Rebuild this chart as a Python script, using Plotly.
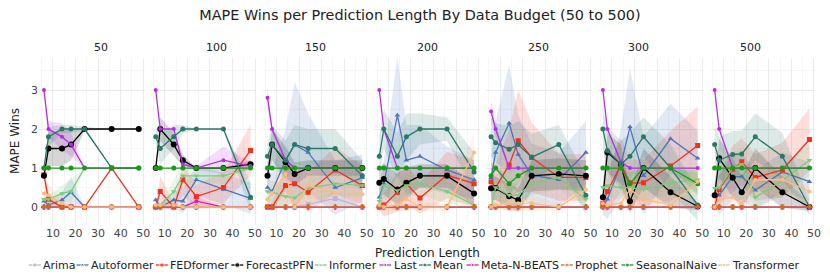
import plotly.graph_objects as go
from plotly.subplots import make_subplots

BUDGETS = ["50", "100", "150", "200", "250", "300", "500"]
PRED_LEN = [6, 8, 14, 18, 24, 36, 48]
NAMES = ["Arima", "Autoformer", "FEDformer", "ForecastPFN", "Informer", "Last",
         "Mean", "Meta-N-BEATS", "Prophet", "SeasonalNaive", "Transformer"]

# mean wins per budget panel (rows) and prediction length (cols)
ARIMA = [[0, 0, 0, 0, 0, 0, 0], [0, 0, 0, 0, 0, 0, 0], [0, 0, 0, 0, 0.07, 0.22, 0],
         [0, 0, 0, 0, 0, 0, 0], [0, 0, 0, 0, 0, 0, 0], [0, 0, 0, 0, 0, 0, 0], [0, 0, 0, 0, 0, 0, 0]]
AUTOFORMER = [[0.15, 0.05, 0.18, 0.38, 0, 0, 0], [0.18, 0, 0.18, 0.15, 0.7, 0.45, 0.22],
              [0.5, 0.4, 1.2, 1.6, 1.4, 0.5, 0.75], [0.25, 0.6, 2.35, 1.2, 1.3, 0.95, 0.7],
              [0.75, 1.4, 2.15, 1.35, 0.82, 0.7, 1.4], [0.0, 0.2, 1.1, 2.05, 0.8, 1.75, 1.25],
              [0.3, 0.3, 0.78, 0.78, 0.43, 0.9, 0.65]]
FEDFORMER = [[0.83, 0.2, 0, 0, 0, 1.0, 0], [0, 0.4, 0, 0.7, 0.27, 0.5, 1.45],
             [0, 0, 0.55, 0.6, 0.38, 0.95, 0.55], [0, 0.05, 0.38, 0.6, 0.23, 0.82, 0.6],
             [0.65, 0.5, 1.08, 1.7, 1.27, 0.76, 0.76], [0.1, 0.4, 1.08, 0.62, 0.62, 1.05, 1.58],
             [0, 0.45, 0.97, 1.16, 0.76, 0.95, 1.73]]
FORECASTPFN = [[0.8, 1.5, 1.5, 1.6, 2.0, 2.0, 2.0], [1.0, 2.0, 1.6, 1.2, 1.0, 1.0, 1.1],
               [0.8, 1.6, 1.15, 0.85, 1.0, 1.0, 1.0], [0.62, 0.72, 0.45, 0.62, 0.8, 0.8, 0.35],
               [0.48, 0.48, 0.28, 0.18, 0.8, 0.85, 0.8], [0.25, 1.4, 1.1, 0.15, 1.0, 0.38, 0.02],
               [0.3, 1.25, 0.75, 0.38, 1.0, 0.38, 0.0]]
INFORMER = [[0.2, 0.2, 0.35, 0.4, 1.0, 1.0, 1.0], [0, 0.05, 0.4, 0.8, 0.8, 0.8, 1.0],
            [0.4, 0.38, 0.27, 0.24, 0.48, 0.6, 0.55], [0.15, 0.55, 0.42, 0.55, 0.6, 0.4, 0.05],
            [0.0, 0.5, 0.3, 0.3, 0.6, 0.75, 0.2], [0.5, 0.55, 0.5, 0.5, 0.45, 0.62, 0.7],
            [0.48, 0.5, 1.0, 1.1, 0.25, 0.68, 1.2]]
LAST = [[3, 2, 1.8, 1.6, 1.0, 1.0, 1.0], [3, 2, 2, 1.1, 1.0, 1.2, 1.05],
        [2.8, 2.0, 1.2, 1.0, 1.0, 1.0, 1.0], [3.0, 2.0, 1.0, 1.0, 1.0, 1.0, 1.0],
        [2.45, 2.0, 1.0, 1.0, 1.0, 1.0, 1.0], [3.0, 2.0, 1.15, 1.0, 1.0, 1.0, 1.0],
        [3.0, 2.0, 1.0, 1.0, 1.0, 1.0, 1.0]]
MEAN = [[1.0, 1.8, 2.0, 2.0, 2.0, 1.0, 1.0], [1.8, 1.5, 1.8, 2.0, 2.0, 2.0, 0.25],
        [1.3, 1.6, 1.2, 1.6, 1.5, 1.5, 0.8], [1.3, 2.0, 1.3, 1.8, 2.0, 2.0, 0.9],
        [1.8, 1.65, 1.48, 1.6, 1.28, 1.6, 0.3], [2.0, 1.45, 1.1, 1.3, 1.8, 1.0, 0.05],
        [1.6, 1.2, 1.35, 1.36, 1.8, 1.3, 0.0]]
META_NBEATS = [[0, 0, 0, 0, 0, 0, 0], [0, 0, 0, 0, 0.15, 0, 0], [0, 0, 0, 0, 0, 0, 0],
               [0, 0, 0, 0, 0, 0, 0], [0, 0, 0, 0, 0, 0, 0], [0, 0, 0, 0, 0, 0, 0], [0, 0, 0, 0, 0, 0, 0]]
PROPHET = [[0, 0, 0, 0, 0, 0, 0], [0, 0, 0, 0, 0, 0, 0], [0, 0, 0, 0, 0, 0, 0],
           [0, 0, 0, 0, 0, 0, 0], [0, 0, 0, 0, 0, 0, 0], [0, 0, 0, 0, 0, 0, 0], [0, 0, 0, 0, 0, 0, 0]]
SEASONALNAIVE = [[1, 1, 1, 1, 1, 1, 1], [1, 1, 1, 1, 1, 1, 1], [1, 1, 1, 1, 1, 1, 1],
                 [1, 1, 1, 1, 1, 1, 1], [0.8, 1.0, 0.6, 0.8, 1.0, 1.0, 1.0],
                 [1.0, 1.0, 1.0, 0.6, 1.0, 1.0, 0.6], [1, 1, 1, 1, 1, 1, 1]]
TRANSFORMER = [[0.35, 0.3, 0.1, 0, 0, 0, 0], [0.05, 0.05, 0.05, 0, 0, 0, 0],
               [0.2, 0.35, 0.85, 0.0, 0.55, 0.35, 0.33], [0.05, 0.0, 0.05, 0.2, 0.0, 0.0, 1.4],
               [0, 0.05, 0.1, 0.1, 0.1, 0, 0.45], [0.1, 0.05, 0.1, 0.45, 0.2, 0.05, 0.65],
               [0.0, 0.2, 0.25, 0.1, 0.7, 0.7, 0.4]]

# half-width of the shaded uncertainty band
ARIMA_ERR = [[0, 0, 0, 0, 0, 0, 0], [0, 0, 0, 0, 0, 0, 0], [0, 0, 0, 0, 0.07, 0.2, 0],
             [0, 0, 0, 0, 0, 0, 0], [0, 0, 0, 0, 0, 0, 0], [0, 0, 0, 0, 0, 0, 0], [0, 0, 0, 0, 0, 0, 0]]
AUTOFORMER_ERR = [[0.1, 0.1, 0.2, 0.4, 0, 0, 0], [0.1, 0.1, 0.2, 0.3, 0.4, 0.4, 0.4],
                  [0.4, 0.5, 0.8, 1.6, 1.0, 0.7, 0.6], [0.3, 0.6, 1.5, 0.9, 0.8, 0.6, 0.5],
                  [0.5, 0.8, 1.5, 1.0, 0.8, 0.7, 0.8], [0.2, 0.5, 0.9, 1.5, 1.0, 0.9, 0.7],
                  [0.3, 0.5, 0.6, 0.6, 0.5, 0.5, 0.5]]
FEDFORMER_ERR = [[0.2, 0.2, 0, 0, 0, 0, 0], [0, 0.4, 0.1, 0.4, 0.3, 0.4, 0.65],
                 [0, 0.1, 0.5, 0.5, 0.5, 0.6, 0.5], [0.1, 0.3, 0.5, 0.5, 0.4, 0.6, 0.6],
                 [0.5, 0.6, 0.9, 1.3, 0.9, 0.6, 0.6], [0.2, 0.5, 0.7, 0.6, 0.6, 0.9, 1.0],
                 [0.1, 0.4, 0.6, 0.6, 0.6, 0.7, 0.8]]
FORECASTPFN_ERR = [[0.1, 0.45, 0.45, 0.4, 0.05, 0, 0], [0, 0.3, 0.3, 0.15, 0, 0, 0.1],
                   [0.3, 0.4, 0.4, 0.3, 0.2, 0.2, 0.2], [0.4, 0.4, 0.4, 0.4, 0.3, 0.3, 0.3],
                   [0.3, 0.3, 0.3, 0.3, 0.4, 0.4, 0.4], [0.3, 0.5, 0.5, 0.3, 0.5, 0.4, 0.1],
                   [0.3, 0.5, 0.5, 0.4, 0.5, 0.4, 0.1]]
INFORMER_ERR = [[0.1, 0.1, 0.2, 0.3, 0, 0, 0], [0, 0.05, 0.3, 0.3, 0.2, 0.2, 0],
                [0.3, 0.3, 0.3, 0.3, 0.3, 0.3, 0.3], [0.2, 0.3, 0.3, 0.3, 0.3, 0.3, 0.1],
                [0.1, 0.3, 0.3, 0.3, 0.3, 0.3, 0.2], [0.3, 0.3, 0.3, 0.3, 0.3, 0.3, 0.3],
                [0.3, 0.3, 0.4, 0.4, 0.3, 0.4, 0.4]]
LAST_ERR = [[0, 0.2, 0.35, 0.3, 0, 0, 0], [0, 0, 0, 0.1, 0.05, 0.35, 0.1],
            [0.3, 0.1, 0.1, 0, 0, 0, 0], [0, 0.1, 0, 0, 0, 0, 0], [0.3, 0.2, 0, 0, 0, 0, 0],
            [0, 0, 0.1, 0, 0, 0, 0], [0, 0, 0, 0, 0, 0, 0]]
MEAN_ERR = [[0, 0.25, 0.1, 0.1, 0.05, 0, 0], [0.2, 0.4, 0.3, 0.1, 0, 0, 0.4],
            [0.3, 0.5, 0.5, 0.5, 0.5, 0.5, 0.4], [0.5, 0.5, 0.6, 0.6, 0.4, 0.3, 0.5],
            [0.5, 0.5, 0.6, 0.6, 0.6, 0.5, 0.5], [0.5, 0.6, 0.6, 0.6, 0.5, 0.6, 0.4],
            [0.5, 0.6, 0.6, 0.6, 0.6, 0.6, 0.2]]
META_NBEATS_ERR = [[0, 0, 0, 0, 0, 0, 0], [0, 0, 0, 0, 0.12, 0, 0], [0, 0, 0, 0, 0, 0, 0],
                   [0, 0, 0, 0, 0, 0, 0], [0, 0, 0, 0, 0, 0, 0], [0, 0, 0, 0, 0, 0, 0], [0, 0, 0, 0, 0, 0, 0]]
PROPHET_ERR = [[0, 0, 0, 0, 0, 0, 0], [0, 0, 0, 0, 0, 0, 0], [0, 0, 0, 0, 0, 0, 0],
               [0, 0, 0.1, 0.1, 0, 0, 0], [0, 0, 0.1, 0.1, 0, 0, 0], [0, 0, 0, 0, 0, 0, 0], [0, 0, 0, 0, 0, 0, 0]]
SEASONALNAIVE_ERR = [[0, 0, 0, 0, 0, 0, 0], [0, 0, 0, 0, 0, 0, 0], [0, 0, 0, 0, 0, 0, 0],
                     [0, 0, 0, 0, 0, 0, 0], [0.2, 0, 0.3, 0.2, 0, 0, 0],
                     [0, 0, 0, 0.3, 0, 0, 0.3], [0, 0, 0, 0, 0, 0, 0]]
TRANSFORMER_ERR = [[0.3, 0.3, 0.1, 0, 0, 0, 0], [0.05, 0.05, 0.05, 0.05, 0.05, 0.05, 0.05],
                   [0.2, 0.3, 0.5, 0.1, 0.4, 0.3, 0.3], [0.1, 0.1, 0.1, 0.2, 0.1, 0.1, 0.5],
                   [0.1, 0.1, 0.2, 0.2, 0.2, 0.1, 0.3], [0.1, 0.1, 0.2, 0.4, 0.2, 0.1, 0.4],
                   [0.1, 0.2, 0.2, 0.2, 0.4, 0.4, 0.3]]

VALUES = [ARIMA, AUTOFORMER, FEDFORMER, FORECASTPFN, INFORMER, LAST, MEAN,
          META_NBEATS, PROPHET, SEASONALNAIVE, TRANSFORMER]
ERRORS = [ARIMA_ERR, AUTOFORMER_ERR, FEDFORMER_ERR, FORECASTPFN_ERR, INFORMER_ERR, LAST_ERR,
          MEAN_ERR, META_NBEATS_ERR, PROPHET_ERR, SEASONALNAIVE_ERR, TRANSFORMER_ERR]

COLORS = ["#bdb3dc", "#4a74bb", "#f2301c", "#000000", "#7fc97f", "#b52ee3",
          "#2b7768", "#d81fae", "#d2691e", "#1a9a1a", "#fdbb84"]
SYMBOLS = ["square", "triangle-up", "square", "circle", "triangle-down", "circle",
           "circle", "circle", "cross", "circle", "circle"]
SIZES = [5, 5, 5, 6, 5, 4, 5, 4, 5, 5, 4]

FONT = "DejaVu Sans"
W, H = 830, 277
OFF = 8  # the page body adds an 8px margin around the figure

# layout (pixels, in figure coordinates)
PANEL_LEFT, PANEL_STEP, PANEL_W = 39.2 - OFF, 112.6, 106.4
PLOT_TOP, PLOT_BOTTOM = 58 - OFF, 225 - OFF
LEGEND_X = [x - OFF for x in [29, 77, 157, 233, 317, 382, 422, 470, 565, 626, 723]]
LEGEND_Y = 265 - OFF
LEG_LINE = 12


def rgba(hexc, a):
    h = hexc.lstrip("#")
    return "rgba(%d,%d,%d,%.2f)" % (int(h[0:2], 16), int(h[2:4], 16), int(h[4:6], 16), a)


fig = make_subplots(rows=1, cols=7, shared_yaxes=True, horizontal_spacing=0.008)

# bands first
for p in range(7):
    for s, name in enumerate(NAMES):
        v = VALUES[s][p]
        e = ERRORS[s][p]
        up = [a + b for a, b in zip(v, e)]
        lo = [a - b for a, b in zip(v, e)]
        fig.add_trace(go.Scatter(
            x=PRED_LEN + PRED_LEN[::-1], y=up + lo[::-1], fill="toself",
            fillcolor=rgba(COLORS[s], 0.16), line=dict(width=0), mode="lines",
            hoverinfo="skip", showlegend=False), row=1, col=p + 1)

for p in range(7):
    for s, name in enumerate(NAMES):
        fig.add_trace(go.Scatter(
            x=PRED_LEN, y=VALUES[s][p], mode="lines+markers", name=name,
            showlegend=False,
            line=dict(color=COLORS[s], width=1.3),
            marker=dict(color=COLORS[s], symbol=SYMBOLS[s], size=SIZES[s])),
            row=1, col=p + 1)

ydom = [1 - PLOT_BOTTOM / H, 1 - PLOT_TOP / H]
for i in range(1, 8):
    x0 = (PANEL_LEFT + PANEL_STEP * (i - 1)) / W
    fig.update_xaxes(domain=[x0, x0 + PANEL_W / W],
                     range=[3.8, 50.6], tickvals=[10, 20, 30, 40, 50], showgrid=True,
                     gridcolor="#ebebeb", gridwidth=1, zeroline=False, showline=False,
                     ticks="", tickfont=dict(size=11, color="#444", family=FONT),
                     minor=dict(dtick=5, tick0=5, showgrid=True, gridcolor="#f6f6f6"),
                     row=1, col=i)
    fig.update_yaxes(domain=ydom, range=[-0.46, 3.82], tickvals=[0, 1, 2, 3], showgrid=True,
                     gridcolor="#ebebeb", gridwidth=1, zeroline=False, showline=False,
                     ticks="", tickfont=dict(size=11, color="#444", family=FONT),
                     minor=dict(dtick=0.5, tick0=0.5, showgrid=True, gridcolor="#f6f6f6"),
                     row=1, col=i)
    # panel title
    fig.add_annotation(text=BUDGETS[i - 1], x=x0 + PANEL_W / W / 2, y=1 - (47 - OFF) / H,
                       xref="paper", yref="paper", showarrow=False, yanchor="middle",
                       font=dict(size=11, color="#222", family=FONT))

# custom legend on a hidden pixel-scaled axis at the bottom
LEG_H = 40
fig.update_layout(
    xaxis8=dict(domain=[0, 1], range=[0, W], visible=False, anchor="y8", fixedrange=True),
    yaxis8=dict(domain=[0, LEG_H / H], range=[0, LEG_H], visible=False, anchor="x8",
                fixedrange=True),
)
for s, name in enumerate(NAMES):
    lx = LEGEND_X[s]
    ly = H - LEGEND_Y
    fig.add_trace(go.Scatter(
        x=[lx, lx + LEG_LINE / 2, lx + LEG_LINE], y=[ly, ly, ly], mode="lines+markers",
        xaxis="x8", yaxis="y8", showlegend=False, hoverinfo="skip", cliponaxis=False,
        line=dict(color=COLORS[s], width=1.3),
        marker=dict(color=COLORS[s], symbol=SYMBOLS[s], size=[0, SIZES[s] - 1, 0])))
    fig.add_annotation(text=name, x=lx + LEG_LINE + 1.5, y=ly, xref="x8", yref="y8",
                       showarrow=False, xanchor="left", yanchor="middle", borderpad=0,
                       font=dict(size=11, color="#222", family=FONT))

fig.add_annotation(text="Prediction Length", x=(PANEL_LEFT + (PANEL_STEP * 6 + PANEL_W) / 2) / W,
                   y=1 - (253 - OFF) / H, xref="paper", yref="paper", borderpad=0,
                   showarrow=False, yanchor="middle", font=dict(size=12, color="#222", family=FONT))
fig.add_annotation(text="MAPE Wins", x=(15 - OFF) / W, y=1 - (141 - OFF) / H,
                   xref="paper", yref="paper",
                   showarrow=False, textangle=-90, xanchor="center", yanchor="middle",
                   font=dict(size=12, color="#222", family=FONT))

fig.update_layout(
    width=W, height=H,
    margin=dict(l=0, r=0, t=0, b=0),
    paper_bgcolor="white", plot_bgcolor="white",
    title=dict(text="MAPE Wins per Prediction Length By Data Budget (50 to 500)",
               x=(420 - OFF) / W, xanchor="center", y=1 - (15 - OFF) / H, yanchor="middle",
               font=dict(size=14.4, color="#222", family=FONT)),
    font=dict(family=FONT, color="#222"),
    showlegend=False,
)

fig.write_html("out.html")
